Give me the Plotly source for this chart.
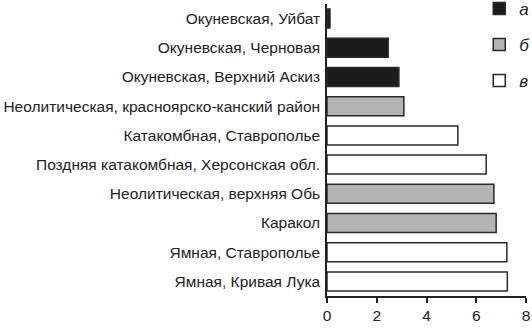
import plotly.graph_objects as go

categories = [
    "Окуневская, Уйбат",
    "Окуневская, Черновая",
    "Окуневская, Верхний Аскиз",
    "Неолитическая, красноярско-канский район",
    "Катакомбная, Ставрополье",
    "Поздняя катакомбная, Херсонская обл.",
    "Неолитическая, верхняя Обь",
    "Каракол",
    "Ямная, Ставрополье",
    "Ямная, Кривая Лука",
]
values = [0.12, 2.46, 2.89, 3.09, 5.26, 6.40, 6.71, 6.80, 7.23, 7.25]
groups = ["а", "а", "а", "б", "в", "в", "б", "б", "в", "в"]
group_names = ["а", "б", "в"]
group_colors = {"а": "#1c1c1c", "б": "#b4b4b4", "в": "#ffffff"}
x_ticks = [0, 2, 4, 6, 8]

fig = go.Figure()
for g in group_names:
    ys = [c for c, gg in zip(categories, groups) if gg == g]
    xs = [v for v, gg in zip(values, groups) if gg == g]
    fig.add_trace(go.Bar(
        x=xs, y=ys, orientation="h", name=g, legendgroup=g,
        marker=dict(color=group_colors[g], line=dict(color="#2a2a2a", width=1.5)),
    ))

fig.update_layout(
    width=532, height=328,
    margin=dict(l=327, r=6, t=4, b=32, autoexpand=False),
    paper_bgcolor="white", plot_bgcolor="white",
    barmode="overlay", bargap=0.35,
    font=dict(family="Liberation Sans, Arial, sans-serif", size=15.5, color="#222"),
    legend=dict(
        x=0.765, y=1.045, xanchor="left", yanchor="top",
        font=dict(size=17, style="italic"),
        traceorder="grouped", tracegroupgap=11,
        itemwidth=30, bgcolor="rgba(0,0,0,0)",
    ),
    xaxis=dict(
        range=[0, 8], tickvals=x_ticks, showgrid=False, zeroline=False,
        showline=True, linecolor="#222", linewidth=1.5,
        ticks="outside", ticklen=5, tickwidth=1.5, tickcolor="#222",
    ),
    yaxis=dict(
        categoryorder="array", categoryarray=categories, autorange="reversed",
        showgrid=False, zeroline=False, showline=True, linecolor="#222", linewidth=1.5,
        ticks="", ticklabelstandoff=2,
    ),
)
fig.write_html("out.html", config={"displayModeBar": False},
               post_script="document.body.style.margin='0';")
